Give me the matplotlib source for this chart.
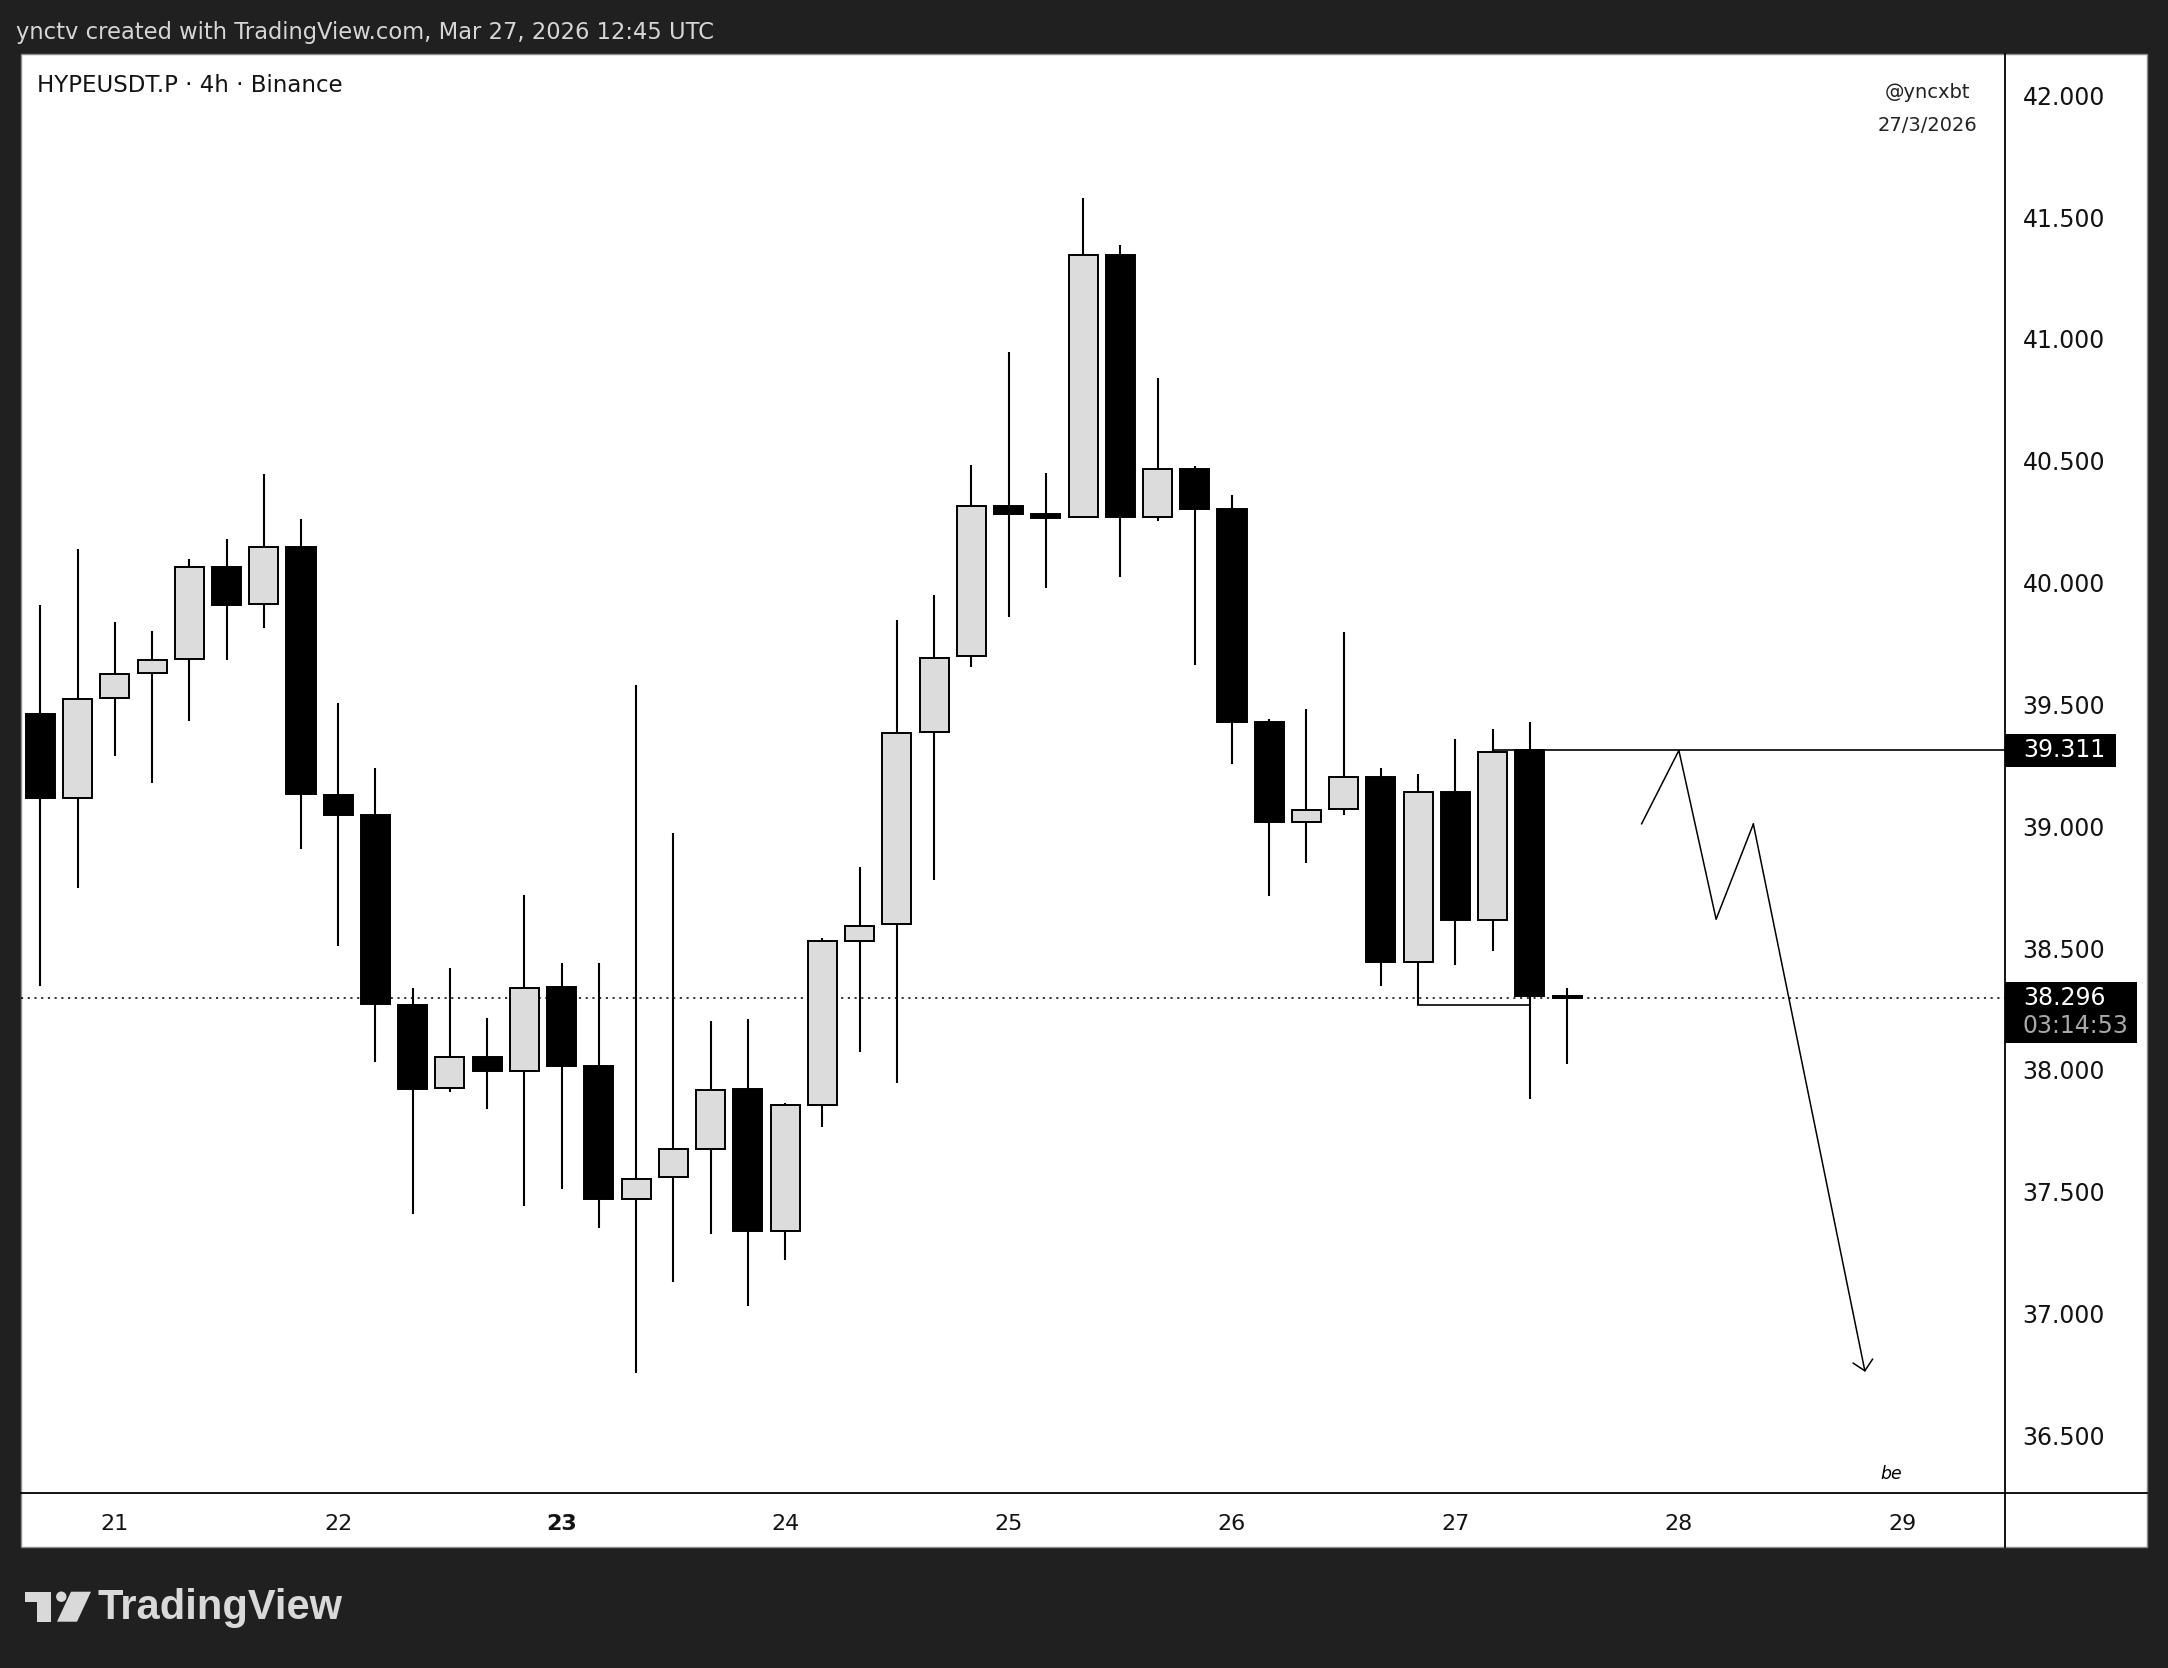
import matplotlib
matplotlib.use('Agg')
import matplotlib.pyplot as plt
from matplotlib.patches import Rectangle, Circle, Polygon
from matplotlib.ticker import FormatStrFormatter, FixedLocator
import matplotlib.transforms as mtransforms

# 4h candles, bar index 0 = 21 Mar 00:00
bar_index = list(range(-2, 40))
opens = [39.461, 39.117, 39.527, 39.629, 39.688, 40.065, 39.914, 40.147, 39.129, 39.044,
         38.267, 37.926, 38.051, 37.997, 38.338, 38.017, 37.468, 37.558, 37.675, 37.920,
         37.339, 37.856, 38.529, 38.598, 39.388, 39.697, 40.315, 40.281, 40.270, 41.344,
         40.270, 40.467, 40.304, 39.426, 39.018, 39.071, 39.200, 38.443, 39.141, 38.615,
         39.311, 38.305]
highs = [39.909, 40.138, 39.839, 39.801, 40.098, 40.180, 40.444, 40.263, 39.504, 39.240,
         38.335, 38.417, 38.212, 38.716, 38.437, 38.437, 39.581, 38.974, 38.202, 38.210,
         37.862, 38.543, 38.833, 39.846, 39.948, 40.482, 40.946, 40.451, 41.579, 41.386,
         40.841, 40.477, 40.359, 39.439, 39.480, 39.797, 39.240, 39.215, 39.358, 39.399,
         39.427, 38.335]
lows = [38.342, 38.747, 39.287, 39.179, 39.431, 39.681, 39.813, 38.908, 38.507, 38.034,
        37.407, 37.910, 37.838, 37.440, 37.510, 37.351, 36.754, 37.128, 37.325, 37.030,
        37.219, 37.765, 38.074, 37.946, 38.778, 39.653, 39.857, 39.977, 40.270, 40.022,
        40.252, 39.660, 39.256, 38.712, 38.851, 39.047, 38.345, 38.267, 38.432, 38.489,
        37.879, 38.022]
closes = [39.115, 39.523, 39.626, 39.683, 40.062, 39.907, 40.147, 39.132, 39.044, 38.269,
          37.920, 38.051, 37.995, 38.336, 38.017, 37.470, 37.550, 37.673, 37.916, 37.339,
          37.854, 38.529, 38.592, 39.383, 39.692, 40.315, 40.283, 40.265, 41.346, 40.268,
          40.467, 40.304, 39.426, 39.017, 39.068, 39.200, 38.442, 39.141, 38.616, 39.305,
          38.301, 38.296]

day_labels = ['21', '22', '23', '24', '25', '26', '27', '28', '29']
day_pos = [0, 6, 12, 18, 24, 30, 36, 42, 48]
price_ticks = [36.5, 37.0, 37.5, 38.0, 38.5, 39.0, 39.5, 40.0, 40.5, 41.0, 41.5, 42.0]

last_price = 38.296
countdown = '03:14:53'
level_price = 39.311
level_start = 37
sweep_x = [35, 38]
sweep_price = 38.267
zigzag_x = [41, 42, 43, 44]
zigzag_y = [39.010, 39.311, 38.618, 39.009]
target_x = 47
target_y = 36.760

W, H = 2168, 1668
fig = plt.figure(figsize=(W / 100, H / 100), dpi=100, facecolor='#202020')

# background layer in pixel coords
bg = fig.add_axes([0, 0, 1, 1], zorder=0)
bg.set_xlim(0, W)
bg.set_ylim(H, 0)
bg.axis('off')
bg.add_patch(Rectangle((20.7, 54.3), 2147 - 20.7, 1547.3 - 54.3, facecolor='white',
                       edgecolor='#8c8c8c', lw=1))
bg.plot([2004.5, 2004.5], [1492.7, 1547.3], color='black', lw=1.3)
bg.plot([2004.5, 2147], [1492.7, 1492.7], color='black', lw=1.3)

# TradingView logo
lc = '#d9d9d9'
bg.add_patch(Polygon([(24.6, 1591.7), (50.5, 1591.7), (50.5, 1621.7), (36.5, 1621.7),
                      (36.5, 1601.7), (24.6, 1601.7)], closed=True, facecolor=lc, lw=0))
bg.add_patch(Circle((61.3, 1596.7), 5.2, facecolor=lc, lw=0))
bg.add_patch(Polygon([(71, 1591.7), (91, 1591.7), (77, 1621.7), (57, 1621.7)], closed=True,
                     facecolor=lc, lw=0))
bg.text(98, 1608, 'TradingView', color=lc, fontsize=30, fontweight='bold',
        family='Liberation Sans', va='center', ha='left')

fig.text(16 / W, 1 - 32.5 / H, 'ynctv created with TradingView.com, Mar 27, 2026 12:45 UTC',
         color='#d6d6d6', fontsize=16.3, va='center', ha='left')

ax_l, ax_r, ax_t, ax_b = 20.7, 2004.5, 54.3, 1492.7
ax = fig.add_axes([ax_l / W, 1 - ax_b / H, (ax_r - ax_l) / W, (ax_b - ax_t) / H], zorder=1)
ax.set_facecolor('none')
ax.set_xlim(-2.527, 50.744)
ax.set_ylim(36.264, 42.1687)

for sp in ['top', 'left']:
    ax.spines[sp].set_visible(False)
for sp in ['right', 'bottom']:
    ax.spines[sp].set_linewidth(1.3)
    ax.spines[sp].set_color('black')

body_w = 0.78
for i, o, h, l, c in zip(bar_index, opens, highs, lows, closes):
    bull = c >= o
    ax.vlines(i, l, h, color='black', lw=1.5, zorder=2)
    lo = min(o, c)
    ht = max(abs(c - o), 0.008)
    ax.add_patch(Rectangle((i - body_w / 2, lo), body_w, ht,
                           facecolor='#dcdcdc' if bull else 'black',
                           edgecolor='black', lw=1.4, zorder=3))

# last price dotted line
ax.axhline(last_price, color='black', lw=1.1, linestyle=(0, (1.4, 3.0)), zorder=1)

# drawings
ax.plot([level_start, ax.get_xlim()[1]], [level_price, level_price], color='black', lw=1.2, zorder=4)
ax.plot(sweep_x, [sweep_price, sweep_price], color='black', lw=1.2, zorder=4)
ax.plot(zigzag_x, zigzag_y, color='black', lw=1.1, zorder=4)
ax.annotate('', xy=(target_x, target_y), xytext=(zigzag_x[-1], zigzag_y[-1]),
            arrowprops=dict(arrowstyle='->,head_length=0.36,head_width=0.36', color='black',
                            lw=1.1, shrinkA=0, shrinkB=0, mutation_scale=20), zorder=4)
ax.text(47.7, 36.341, 'be', fontsize=12.5, style='italic', ha='center', va='center')

ax.text(0.008, 0.9785, 'HYPEUSDT.P · 4h · Binance', transform=ax.transAxes,
        fontsize=16.5, color='#131313', ha='left', va='center')
ax.text(0.9613, 0.9735, '@yncxbt', transform=ax.transAxes, fontsize=14, color='#222222',
        ha='center', va='center')
ax.text(0.9613, 0.9502, '27/3/2026', transform=ax.transAxes, fontsize=14, color='#222222',
        ha='center', va='center')

# axes ticks
ax.yaxis.tick_right()
ax.yaxis.set_major_locator(FixedLocator(price_ticks))
ax.yaxis.set_major_formatter(FormatStrFormatter('%.3f'))
ax.tick_params(axis='y', length=0, pad=13, labelsize=17, labelcolor='#131313')
ax.set_xticks(day_pos)
ax.set_xticklabels(day_labels)
ax.tick_params(axis='x', length=0, pad=15, labelsize=16, labelcolor='#131313')
for lab in ax.get_xticklabels():
    if lab.get_text() == '23':
        lab.set_fontweight('bold')

# price boxes on the axis
tr = mtransforms.blended_transform_factory(ax.transAxes, ax.transData)
ax.add_patch(Rectangle((1.0, level_price - 0.068), 0.0561, 0.137, transform=tr,
                       facecolor='black', edgecolor='none', clip_on=False, zorder=5))
ax.text(1.0092, level_price, '39.311', transform=tr, color='white', fontsize=17,
        ha='left', va='center', clip_on=False, zorder=6)
ax.add_patch(Rectangle((1.0, 38.109), 0.0669, 38.360 - 38.109, transform=tr,
                       facecolor='black', edgecolor='none', clip_on=False, zorder=5))
ax.text(1.0092, last_price, '%.3f' % last_price, transform=tr, color='white', fontsize=17,
        ha='left', va='center', clip_on=False, zorder=6)
ax.text(1.0092, 38.178, countdown, transform=tr, color='#a8a8a8', fontsize=17,
        ha='left', va='center', clip_on=False, zorder=6)

fig.savefig('out.png', dpi=100, facecolor=fig.get_facecolor())
